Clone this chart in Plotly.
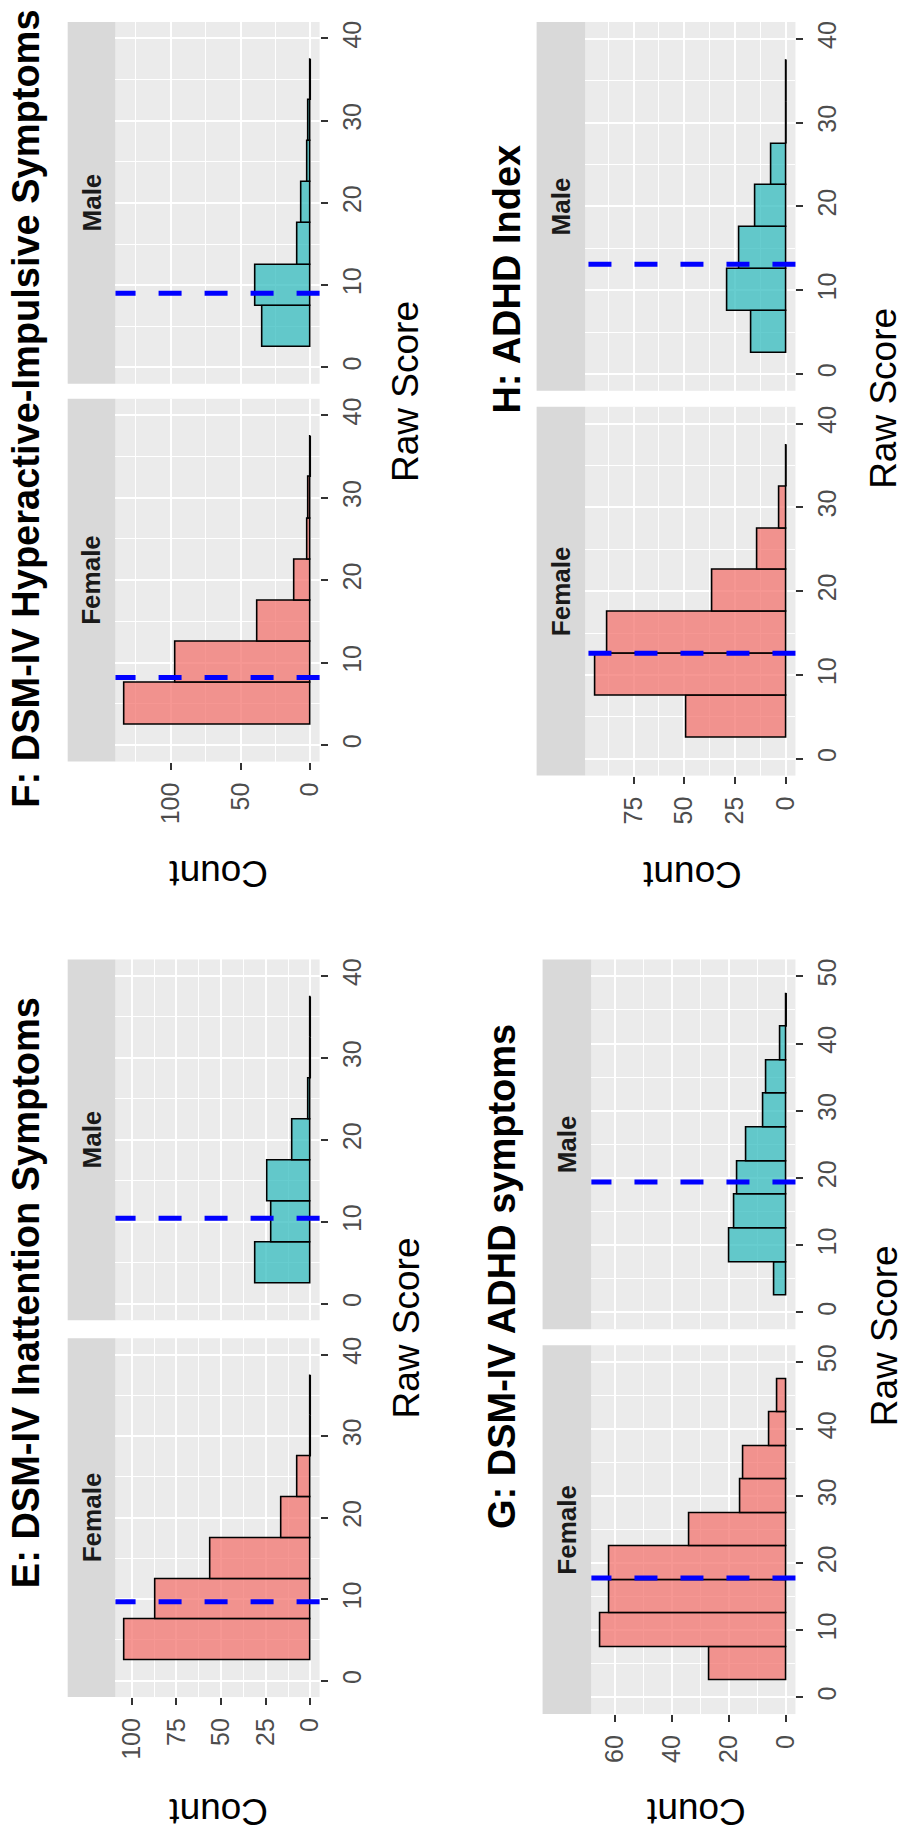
import plotly.graph_objects as go

W, H = 904, 1832
FONT = "Liberation Sans"

# ---------------- data ----------------
bins_40 = [5, 10, 15, 20, 25, 30, 35]
bins_50 = [5, 10, 15, 20, 25, 30, 35, 40, 45]
bin_width = 5

f_female = [133, 97, 38, 11, 2, 1, 0]
f_male = [34, 39, 9, 6, 2, 1, 0]
h_female = [49, 94, 88, 36, 14, 3, 0]
h_male = [17, 29, 23, 15, 7, 0, 0]
e_female = [104, 87, 56, 16, 7, 0, 0]
e_male = [31, 22, 24, 10, 1, 0, 0]
g_female = [27, 65, 62, 62, 34, 16, 15, 6, 3]
g_male = [4, 20, 18, 17, 14, 8, 7, 2, 0]

mean_female = {"F": 8.2, "H": 12.6, "E": 9.7, "G": 17.8}
mean_male = {"F": 9.0, "H": 13.1, "E": 10.45, "G": 19.4}

titles = {
    "F": "F: DSM-IV Hyperactive-Impulsive Symptoms",
    "H": "H: ADHD Index",
    "E": "E: DSM-IV Inattention Symptoms",
    "G": "G: DSM-IV ADHD symptoms",
}
raw_limits = {"F": (0, 40), "H": (0, 40), "E": (0, 40), "G": (0, 50)}
count_dtick = {"F": 50, "H": 25, "E": 25, "G": 20}

# ---------------- layout (pixel geometry) ----------------
geom = {
    "F": dict(px=(116, 321), male=(21, 383), female=(398, 761), strip=(68, 116),
              title=(26, 408), raw=(408, 391), count=(220, 873)),
    "H": dict(px=(588, 799), male=(21, 390), female=(406, 775), strip=(539, 588),
              title=(509, 278), raw=(888, 398), count=(695, 874)),
    "E": dict(px=(116, 321), male=(959, 1320), female=(1338, 1697), strip=(68, 116),
              title=(26, 1292), raw=(408, 1328), count=(220, 1812)),
    "G": dict(px=(594, 799), male=(959, 1329), female=(1345, 1714), strip=(545, 594),
              title=(505, 1276), raw=(888, 1336), count=(699, 1812)),
}
series = {
    "F": (bins_40, f_male, f_female),
    "H": (bins_40, h_male, h_female),
    "E": (bins_40, e_male, e_female),
    "G": (bins_50, g_male, g_female),
}

MALE_FILL = "rgba(45,186,188,0.72)"
FEMALE_FILL = "rgba(242,111,106,0.72)"


def fx(p):
    return p / W


def fy(p):
    return 1 - p / H


fig = go.Figure()
layout = {}
shapes = []
annotations = []

idx = 0
for key in ["F", "H", "E", "G"]:
    g = geom[key]
    centers, male, female = series[key]
    m = max(max(male), max(female))
    lo, hi = raw_limits[key]
    span = hi - lo
    for facet, counts, fill, mean in [
        ("Male", male, MALE_FILL, mean_male[key]),
        ("Female", female, FEMALE_FILL, mean_female[key]),
    ]:
        idx += 1
        xa = "x" if idx == 1 else f"x{idx}"
        ya = "y" if idx == 1 else f"y{idx}"
        xname = "xaxis" if idx == 1 else f"xaxis{idx}"
        yname = "yaxis" if idx == 1 else f"yaxis{idx}"
        top, bot = g["male"] if facet == "Male" else g["female"]

        fig.add_trace(go.Bar(
            x=counts, y=centers, orientation="h", width=bin_width,
            marker=dict(color=fill, line=dict(color="black", width=1.6)),
            xaxis=xa, yaxis=ya, showlegend=False, hoverinfo="skip",
        ))
        # zero-count bins are drawn by ggplot as a collapsed rectangle (a line)
        zx, zy = [], []
        for c, v in zip(centers, counts):
            if v == 0:
                zx += [0, 0, None]
                zy += [c - bin_width / 2, c + bin_width / 2, None]
        if zx:
            fig.add_trace(go.Scatter(
                x=zx, y=zy, mode="lines", line=dict(color="black", width=1.5),
                xaxis=xa, yaxis=ya, showlegend=False, hoverinfo="skip",
            ))

        show_count = facet == "Female"
        layout[xname] = dict(
            domain=[fx(g["px"][0]), fx(g["px"][1])],
            range=[1.05 * m, -0.05 * m],
            anchor=ya, side="bottom",
            tick0=0, dtick=count_dtick[key],
            showgrid=True, gridcolor="white", gridwidth=2.2,
            minor=dict(dtick=count_dtick[key] / 2, tick0=0, showgrid=True,
                       gridcolor="white", gridwidth=1.1),
            zeroline=False, showline=False,
            ticks="outside" if show_count else "", ticklen=7, tickwidth=1.5,
            tickcolor="#333333",
            showticklabels=show_count, tickangle=-90,
            tickfont=dict(family=FONT, size=25, color="#4D4D4D"),
            ticklabelstandoff=3,
        )
        layout[yname] = dict(
            domain=[fy(bot), fy(top)],
            range=[lo - 0.05 * span, hi + 0.05 * span],
            anchor=xa, side="right",
            tick0=0, dtick=10,
            showgrid=True, gridcolor="white", gridwidth=2.2,
            minor=dict(dtick=5, tick0=0, showgrid=True, gridcolor="white", gridwidth=1.1),
            zeroline=False, showline=False,
            ticks="outside", ticklen=7, tickwidth=1.5, tickcolor="#333333",
            tickangle=-90,
            tickfont=dict(family=FONT, size=25, color="#4D4D4D"),
            ticklabelstandoff=3,
        )
        # facet strip
        shapes.append(dict(
            type="rect", xref="paper", yref="paper",
            x0=fx(g["strip"][0]), x1=fx(g["strip"][1]), y0=fy(bot), y1=fy(top),
            fillcolor="#D9D9D9", line=dict(width=0), layer="below",
        ))
        annotations.append(dict(
            text=facet, xref="paper", yref="paper",
            x=fx((g["strip"][0] + g["strip"][1]) / 2), y=fy((top + bot) / 2),
            xanchor="center", yanchor="middle", textangle=-90, showarrow=False,
            font=dict(family=FONT, size=26, color="#1A1A1A", weight="bold"),
        ))
        # mean line
        shapes.append(dict(
            type="line", xref=f"{xa} domain", yref=ya,
            x0=1, x1=0, y0=mean, y1=mean,
            line=dict(color="#0000FF", width=5, dash="23px,23px"),
            layer="above",
        ))

    # title
    annotations.append(dict(
        text=titles[key], xref="paper", yref="paper",
        x=fx(g["title"][0]), y=fy(g["title"][1]),
        xanchor="center", yanchor="middle", textangle=-90, showarrow=False,
        font=dict(family=FONT, size=38, color="black", weight="bold"),
    ))
    annotations.append(dict(
        text="Raw Score", xref="paper", yref="paper",
        x=fx(g["raw"][0]), y=fy(g["raw"][1]),
        xanchor="center", yanchor="middle", textangle=-90, showarrow=False,
        font=dict(family=FONT, size=37, color="black"),
    ))
    annotations.append(dict(
        text="Count", xref="paper", yref="paper",
        x=fx(g["count"][0]), y=fy(g["count"][1]),
        xanchor="center", yanchor="middle", textangle=180, showarrow=False,
        font=dict(family=FONT, size=37, color="black"),
    ))

fig.update_layout(
    width=W, height=H,
    margin=dict(l=0, r=0, t=0, b=0),
    paper_bgcolor="white", plot_bgcolor="#EBEBEB",
    showlegend=False, bargap=0,
    shapes=shapes, annotations=annotations,
    **layout,
)

fig.write_html("out.html", config={"displayModeBar": False},
               post_script="document.body.style.margin='0';")
